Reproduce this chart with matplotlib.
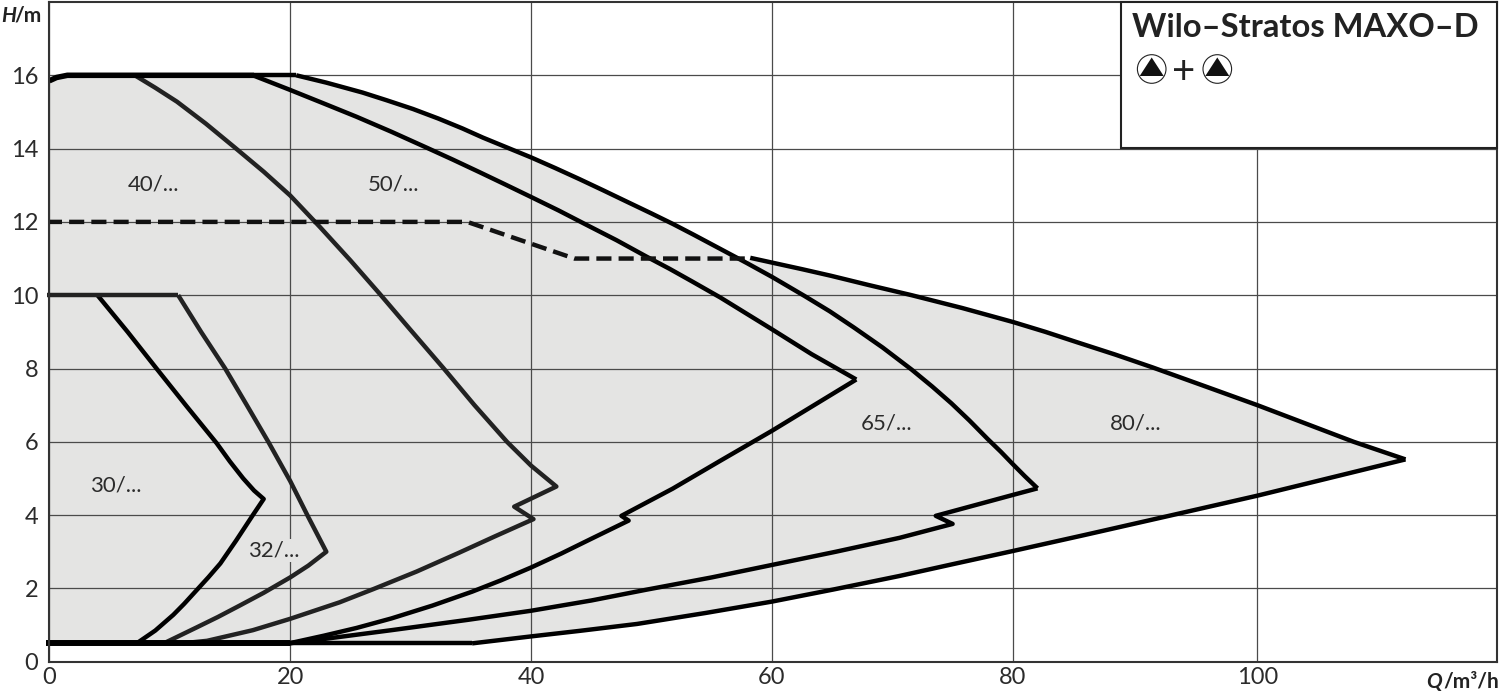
import matplotlib
matplotlib.use("Agg")
import matplotlib.pyplot as plt
from matplotlib.patches import Rectangle, Circle, Polygon

plt.rcParams['font.family'] = ['Lato', 'DejaVu Sans']

W, H = 1500, 694
L, R, T, B = 49.3, 1497.0, 2.0, 661.7

x_ticks = [0, 20, 40, 60, 80, 100.3]
x_labels = ['0', '20', '40', '60', '80', '100']
y_ticks = [0, 2, 4, 6, 8, 10, 12, 14, 16]

top_q = [0, 0.6, 1.5, 17]
top_h = [15.85, 15.94, 16, 16]
top2_q = [17, 20.5]
top2_h = [16, 16]
base_q = [-0.3, 20]
base_h = [0.5, 0.5]
base2_q = [20, 35.1]
base2_h = [0.5, 0.5]
dash_q = [-0.2, 34.7, 43.6, 58.2]
dash_h = [12, 12, 11, 11]

c65_up_q = [20.5, 23, 26, 28, 30.2, 32.3, 34.3, 36, 38, 40, 42, 44, 46, 47.9, 50, 51.8, 53.5, 55.1, 57.9,
            60, 61.3, 62.7, 64.8, 66.8, 69.2, 71.6, 73.3, 74.9, 76.4, 77.9, 79, 80, 81, 82.05]
c65_up_h = [16, 15.8, 15.53, 15.32, 15.08, 14.82, 14.55, 14.3, 14.03, 13.76, 13.47, 13.17, 12.86, 12.56,
            12.23, 11.94, 11.65, 11.37, 10.88,
            10.5, 10.25, 9.98, 9.56, 9.12, 8.57, 7.97, 7.51, 7.05, 6.58, 6.08, 5.73, 5.39, 5.06, 4.73]
c65_lo_q = [82.05, 80, 73.6, 75, 70.6, 65.3, 60, 55, 49.5, 45, 40, 34.7, 28.4, 22.8, 19.9]
c65_lo_h = [4.73, 4.55, 3.98, 3.76, 3.38, 3.0, 2.64, 2.3, 1.96, 1.67, 1.39, 1.14, 0.86, 0.62, 0.5]

c80_up_q = [58.2, 60, 62.5, 64.9, 68, 71.6, 75.8, 80, 82.7, 85.3, 88.5, 91.6, 96, 100.3, 104.3, 108.3, 112.6]
c80_up_h = [11.02, 10.89, 10.71, 10.53, 10.28, 10.0, 9.65, 9.27, 9.0, 8.72, 8.38, 8.03, 7.51, 7.0, 6.5, 6.0, 5.52]
c80_lo_q = [112.6, 100.3, 92.7, 86, 80, 75, 70.6, 65.1, 60, 54.5, 48.8, 44, 40, 35.1]
c80_lo_h = [5.52, 4.53, 3.96, 3.46, 3.02, 2.66, 2.34, 1.97, 1.64, 1.33, 1.03, 0.84, 0.69, 0.5]

c50_up_q = [16.9, 20, 22.8, 25.5, 28.4, 31.3, 33.5, 35.7, 37.8, 40, 42.3, 44.6, 47.1, 49.6, 51.5, 53.4,
            55.7, 60, 63.3, 67.0]
c50_up_h = [16, 15.6, 15.23, 14.87, 14.46, 14.03, 13.7, 13.36, 13.03, 12.68, 12.31, 11.92, 11.5, 11.05,
            10.72, 10.37, 9.94, 9.07, 8.39, 7.7]
c50_lo_q = [67.0, 60, 55.7, 51.75, 47.5, 48.1, 45.1, 42.5, 40, 37.5, 35.1, 31.8, 28.4, 25.5, 22.8, 19.9]
c50_lo_h = [7.7, 6.3, 5.48, 4.72, 3.98, 3.85, 3.37, 2.95, 2.57, 2.22, 1.91, 1.53, 1.18, 0.92, 0.71, 0.5]

c40_up_q = [7.1, 8.8, 10.6, 13, 15.4, 17.8, 20, 22.5, 25, 27.4, 30, 32.7, 35.3, 38, 40, 42.1]
c40_up_h = [16, 15.66, 15.28, 14.68, 14.03, 13.37, 12.72, 11.85, 10.95, 10.05, 9.05, 8.02, 7.0, 6.0, 5.35, 4.78]
c40_lo_q = [42.1, 38.6, 40.2, 37, 34, 30.5, 26.9, 24.1, 20, 16.9, 13.1, 11]
c40_lo_h = [4.78, 4.23, 3.89, 3.42, 2.97, 2.46, 1.98, 1.62, 1.17, 0.86, 0.57, 0.5]

c32_up_q = [10.7, 12.6, 14.6, 16.4, 18.2, 20, 21.5, 23]
c32_up_h = [10, 9.0, 8.0, 7.0, 5.99, 4.93, 3.95, 3.0]
c32_lo_q = [23, 21.5, 20, 17.8, 15.8, 14, 12.2, 9.5]
c32_lo_h = [3.0, 2.62, 2.3, 1.88, 1.53, 1.22, 0.93, 0.5]

c30_up_q = [4, 6.5, 8.9, 11.4, 13.9, 15, 16.1, 17, 17.8]
c30_up_h = [10, 9.0, 8, 6.97, 5.96, 5.46, 5.0, 4.67, 4.44]
c30_lo_q = [17.8, 16.9, 15.5, 14.2, 13.2, 12.2, 11.2, 10.3, 8.8, 7.25]
c30_lo_h = [4.44, 4.0, 3.3, 2.68, 2.3, 1.94, 1.58, 1.28, 0.85, 0.5]

flat10_q = [-0.2, 10.7]
flat10_h = [10, 10]

labels = ['30/...', '32/...', '40/...', '50/...', '65/...', '80/...']
label_q = [5.54, 18.65, 8.64, 28.6, 69.5, 90.2]
label_h = [4.8, 3.03, 13.03, 13.03, 6.5, 6.5]

ink = '#2b2b2b'

fig = plt.figure(figsize=(W / 100, H / 100), dpi=100)
ax = fig.add_axes([L / W, 1 - B / H, (R - L) / W, (B - T) / H])
ax.set_xlim(0, 120.2)
ax.set_ylim(0, 18)
ax.set_xticks(x_ticks, x_labels)
ax.set_yticks(y_ticks)
ax.tick_params(length=0, labelsize=17, labelcolor=ink)
ax.tick_params(axis='y', pad=8)
ax.tick_params(axis='x', pad=4)
for s in ax.spines.values():
    s.set_linewidth(1.5)
    s.set_color('#333333')
    s.set_zorder(6)
ax.grid(True, color='#4a4a4a', lw=0.9)
ax.set_axisbelow(False)
for g in ax.get_xgridlines() + ax.get_ygridlines():
    g.set_zorder(2)

n_env = c65_up_q.index(57.9) + 1
env_q = top_q + c65_up_q[:n_env] + c80_up_q + c80_lo_q[1:] + [0]
env_h = top_h + c65_up_h[:n_env] + c80_up_h + c80_lo_h[1:] + [0.5]
ax.fill(env_q, env_h, color='#e4e4e3', lw=0, zorder=1)

black = '#000000'
dark = '#222222'
style = dict(solid_joinstyle='round', solid_capstyle='butt', zorder=3, clip_on=False)
for q, h, c in [
    (c80_up_q, c80_up_h, black), (c80_lo_q, c80_lo_h, black),
    (c65_up_q, c65_up_h, black), (c65_lo_q, c65_lo_h, black),
    (c50_up_q, c50_up_h, black), (c50_lo_q, c50_lo_h, black),
    (c40_up_q + c40_lo_q[1:], c40_up_h + c40_lo_h[1:], dark),
    (c32_up_q + c32_lo_q[1:], c32_up_h + c32_lo_h[1:], dark),
    (c30_up_q + c30_lo_q[1:], c30_up_h + c30_lo_h[1:], black),
    (top2_q, top2_h, black), (base2_q, base2_h, black),
]:
    ax.plot(q, h, color=c, lw=3.2, **style)
ax.plot(flat10_q, flat10_h, color=dark, lw=3.2, **style)
ax.plot(top_q, top_h, color=black, lw=4.0, **style)
ax.plot(base_q, base_h, color=black, lw=4.3, **style)
ax.plot(dash_q, dash_h, color='#111111', lw=3.2, dashes=(3.4, 1.6), zorder=3)

for t, q, h in zip(labels, label_q, label_h):
    ax.text(q, h, t, fontsize=16, color=ink, ha='center', va='center', zorder=4,
            bbox=dict(fc='#e4e4e3', ec='none', pad=1.0))


def px(x, y):
    return x / W, 1 - y / H


fig.add_artist(Rectangle(px(1121, 148), (R - 1121) / W, 146 / H, transform=fig.transFigure,
                         fc='white', ec='#222222', lw=1.5, zorder=5))
fig.text(*px(1132, 37), 'Wilo\u2013Stratos MAXO\u2013D', fontsize=23.6, fontweight='bold',
         color='#222222', ha='left', va='baseline', zorder=7)
fig.text(*px(1184, 69), '+', fontsize=29, color='#222222', ha='center', va='center_baseline', zorder=7)
for cx in (1151.7, 1217.3):
    fig.add_artist(Circle((cx, H - 69), 14.3, transform=None, fc='white', ec='#222222', lw=0.8, zorder=7))
    fig.add_artist(Polygon([(cx - 12, H - 76), (cx + 12, H - 76), (cx, H - 57.5)], closed=True,
                           transform=None, fc='#111111', ec='none', zorder=8))

fig.text(*px(1, 22), 'H', fontsize=15, fontweight='bold', style='italic', color='#222222',
         ha='left', va='baseline')
fig.text(*px(14, 22), '/m', fontsize=15, fontweight='bold', color='#222222', ha='left', va='baseline')
fig.text(*px(1442, 688), 'Q', fontsize=15, fontweight='bold', style='italic', color='#222222',
         ha='right', va='baseline')
fig.text(*px(1499, 688), '/m\u00b3/h', fontsize=15, fontweight='bold', color='#222222',
         ha='right', va='baseline')

fig.savefig('out.png', dpi=100, facecolor='white')
